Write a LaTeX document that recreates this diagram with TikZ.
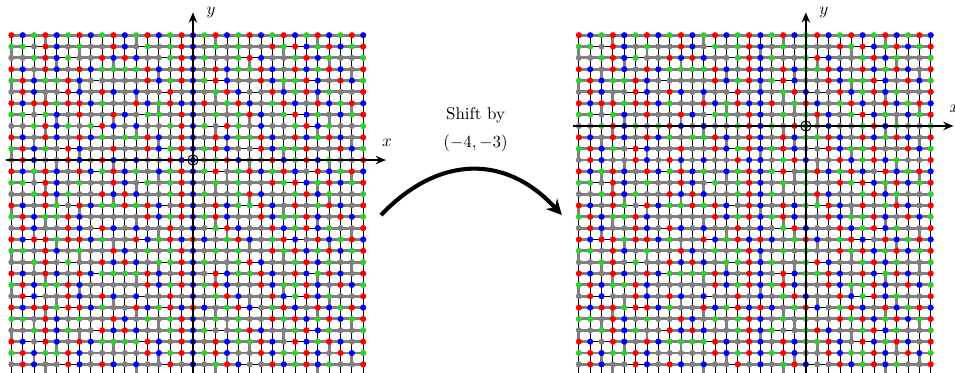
\documentclass[tikz,border=0pt]{standalone}
\usetikzlibrary{arrows.meta}
\definecolor{colR}{RGB}{255,0,0}
\definecolor{colB}{RGB}{0,0,255}
\definecolor{colG}{RGB}{50,205,50}
\definecolor{colK}{RGB}{128,128,128}
\newcount\mycolidx
\def\mydotrow#1#2{\mycolidx=-16 \def\myrowy{#1}\mydotrowaux#2\relax}
\def\mydotrowaux#1{\ifx#1\relax\else\fill[col#1] (\the\mycolidx,\myrowy) circle[radius=0.27];\advance\mycolidx by 1 \expandafter\mydotrowaux\fi}
\def\myhrow#1#2{\mycolidx=-16 \def\myrowy{#1}\edef\mytmp{#2}\expandafter\myhrowaux\mytmp\relax}
\def\myhrowaux#1{\ifx#1\relax\else\draw[e#1] (\the\mycolidx,\myrowy) -- ++(1,0);\advance\mycolidx by 1 \expandafter\myhrowaux\fi}
\def\myvrow#1#2{\mycolidx=-16 \def\myrowy{#1}\edef\mytmp{#2}\expandafter\myvrowaux\mytmp\relax}
\def\myvrowaux#1{\ifx#1\relax\else\draw[e#1] (\the\mycolidx,\myrowy) -- ++(0,-1);\advance\mycolidx by 1 \expandafter\myvrowaux\fi}
\def\hallg{ggggggggggggggggggggggggggggggg}
\def\hmixa{ggggkkgggggggkggggggkkggggggggg}
\def\hmixb{gggggggkgggggggggkkgggggggkgggg}
\def\hmixc{gkkggggggggkggggggggggggkkggggg}
\def\vmixa{kkkgkkkkkkkgkkkkkkgkkkkkkkkgkkkk}
\def\vmixb{gkkkkkgkkkkkkkkkgkkkkkkkgkkkkkkk}
\def\vmixc{kkkkgkkkkgkkkkkkkkkkkgkkkkkkgkkk}
\def\vmixd{kkgkkkkkkkkkkgkkkkkgkkkkkkkkkkgk}
\newcommand\mylattice{%
  \myhrow{11}{\hallg}\myhrow{10}{\hmixc}\myhrow{9}{\hmixa}\myhrow{8}{\hallg}
  \myhrow{7}{\hmixb}\myhrow{6}{\hmixa}\myhrow{5}{\hallg}\myhrow{4}{\hmixc}
  \myhrow{3}{\hmixb}\myhrow{2}{\hallg}\myhrow{1}{\hmixa}\myhrow{0}{\hallg}
  \myhrow{-1}{\hmixb}\myhrow{-2}{\hmixc}\myhrow{-3}{\hallg}\myhrow{-4}{\hmixa}
  \myhrow{-5}{\hallg}\myhrow{-6}{\hmixb}\myhrow{-7}{\hmixc}\myhrow{-8}{\hallg}
  \myhrow{-9}{\hmixa}\myhrow{-10}{\hmixb}\myhrow{-11}{\hallg}\myhrow{-12}{\hmixc}
  \myhrow{-13}{\hmixa}\myhrow{-14}{\hallg}\myhrow{-15}{\hmixb}\myhrow{-16}{\hmixc}
  \myhrow{-17}{\hallg}\myhrow{-18}{\hmixa}\myhrow{-19}{\hallg}
  \myvrow{11}{\vmixa}\myvrow{10}{\vmixb}\myvrow{9}{\vmixc}\myvrow{8}{\vmixd}
  \myvrow{7}{\vmixb}\myvrow{6}{\vmixa}\myvrow{5}{\vmixd}\myvrow{4}{\vmixc}
  \myvrow{3}{\vmixa}\myvrow{2}{\vmixd}\myvrow{1}{\vmixb}\myvrow{0}{\vmixc}
  \myvrow{-1}{\vmixd}\myvrow{-2}{\vmixa}\myvrow{-3}{\vmixc}\myvrow{-4}{\vmixb}
  \myvrow{-5}{\vmixa}\myvrow{-6}{\vmixd}\myvrow{-7}{\vmixc}\myvrow{-8}{\vmixb}
  \myvrow{-9}{\vmixd}\myvrow{-10}{\vmixa}\myvrow{-11}{\vmixb}\myvrow{-12}{\vmixc}
  \myvrow{-13}{\vmixa}\myvrow{-14}{\vmixd}\myvrow{-15}{\vmixb}\myvrow{-16}{\vmixc}
  \myvrow{-17}{\vmixd}\myvrow{-18}{\vmixa}
  \mydotrow{11}{RBGRBGRBGRBGRBGRBGRBGRBGRBGRBGRB}
  \mydotrow{10}{GGKRBKGKKRBKGKGRBKGKGKKRGRBGRBGR}
  \mydotrow{9}{KKGRBGKKRBRBKKGRBGKKGRBKKGRBGKKG}
  \mydotrow{8}{RBKRBKRBGGGGRBKRBKRBGGRBKRBGRBKR}
  \mydotrow{7}{GRBGGRBKKKKKRBGRBGRBKKRBGGRBKRBG}
  \mydotrow{6}{KRBKKRBKRBKBKKRKBKGRBKKRBGRBGKKR}
  \mydotrow{5}{RBRRGRRBGKKRBGRBBRKGRBKGRBKRBGRB}
  \mydotrow{4}{GGKGBKRKKRBKGGKRBKGKGRBKGRBGKBGR}
  \mydotrow{3}{KKGRBGKGRBKBKKGRBGKRGKBKKGRBGKKG}
  \mydotrow{2}{RBKRBKRBGKGGRBKRBKRBGGRBKRBGRBKR}
  \mydotrow{1}{GRBGKRBKKRKKRBGRBGRBKKRBGGRKKRBG}
  \mydotrow{0}{KRBKKRBKRBKBKKRBBKGRBKKRBGRBGKKR}
  \mydotrow{-1}{RBGRBKRBGRBGKBGRBGRKGRBGRBKRBGRB}
  \mydotrow{-2}{GGKRBKGKKRBKGKGRBKGKGKKRGRBGRBGR}
  \mydotrow{-3}{KKGRBGKKRBRBKKGRBGKKGRBKKGRBGKKG}
  \mydotrow{-4}{RBKRGKRBGGRGRBKRBKRBGGRBKRKGRBKR}
  \mydotrow{-5}{GRBGGRBKKKKKRBGRBGRBKKRBGGRBKRBG}
  \mydotrow{-6}{KRBKKRBKRBKBKKRKBKGRBKKRBGRBGKKR}
  \mydotrow{-7}{RBRRGRRBGKKRBGRBRBKGRBKGRBKRBGRB}
  \mydotrow{-8}{GGKRBKGKKRBKGKGRBKGKGKKRGRBGRBGR}
  \mydotrow{-9}{KKGRKGKKRBRBKGGRBGKKGRBKKGRBGKKG}
  \mydotrow{-10}{RBKRBKRBGGGGRBKRBKRBGGRBKRBGRBKR}
  \mydotrow{-11}{GRBGGRBKKKKKRBGRBGRBKKRBGGRBKRBG}
  \mydotrow{-12}{KRBKKRBKRBKBKKRKBKGRBKKRBGRBGKKR}
  \mydotrow{-13}{RBRRGRRBGKKRBGRBRBKGRBKGRBKRBGRB}
  \mydotrow{-14}{GGKRBKGKKRBKGKGRBKGKGKKRGRBGRBGR}
  \mydotrow{-15}{KKGRBGKKRBRBKKGRBGKKGRBKKGRBGKKG}
  \mydotrow{-16}{RBKRBKRBGGGGRBKRBKRBGGRBKRBGRBKR}
  \mydotrow{-17}{GRBGGRBKKKKKRBGRBGRBKKRBGGRBKRBG}
  \mydotrow{-18}{KRBKKRBKRBKBKKRKBKGRBKKRBGRBGKKR}
}
\begin{document}
\begin{tikzpicture}[x=6.68pt,y=6.68pt,
  eg/.style={colK,line width=1.7pt},
  ek/.style={black,line width=0.5pt},
  axis/.style={black,line width=0.8pt,-{Stealth[length=6pt,width=5pt]}},
  lbl/.style={inner sep=0pt,font=\normalsize},
  originmark/.style={draw,circle,minimum size=6pt,inner sep=0pt,line width=0.6pt},
  shiftarrow/.style={black,line width=2.4pt,-{Stealth[length=9pt,width=9pt]}}]
\useasboundingbox (-17,-18.68) rectangle (67.14,14.1);
\clip (-17,-18.68) rectangle (67.14,14.1);
% left lattice
\begin{scope}
  \mylattice
  \coordinate (lxs) at (-16.5,0);
  \coordinate (lxe) at (17,0);
  \coordinate (lys) at (0,-19.5);
  \coordinate (lye) at (0,13);
  \draw[axis] (lxs) -- (lxe);
  \draw[axis] (lys) -- (lye);
  \node[lbl] (lx) at (17.09,1.5) {$x$};
  \node[lbl] (ly) at (1.59,13.04) {$y$};
  \node[originmark] (lo) at (0,0) {};
\end{scope}
% right lattice
\begin{scope}[shift={(50,0)}]
  \mylattice
  \coordinate (rxs) at (-16.5,3);
  \coordinate (rxe) at (17,3);
  \coordinate (rys) at (4,-19.5);
  \coordinate (rye) at (4,13);
  \draw[axis] (rxs) -- (rxe);
  \draw[axis] (rys) -- (rye);
  \node[lbl] (rx) at (17.09,4.5) {$x$};
  \node[lbl] (ry) at (5.59,13.04) {$y$};
  \node[originmark] (ro) at (4,3) {};
\end{scope}
% shift arrow
\coordinate (as) at (16.56,-4.85);
\coordinate (ae) at (32.5,-4.85);
\draw[shiftarrow] (as) .. controls (21.7,0.5) and (27.6,0.5) .. (ae);
\node[lbl] (t1) at (24.9,3.96) {Shift by};
\node[lbl] (t2) at (24.9,1.5) {$(-4,-3)$};
\end{tikzpicture}
\end{document}
